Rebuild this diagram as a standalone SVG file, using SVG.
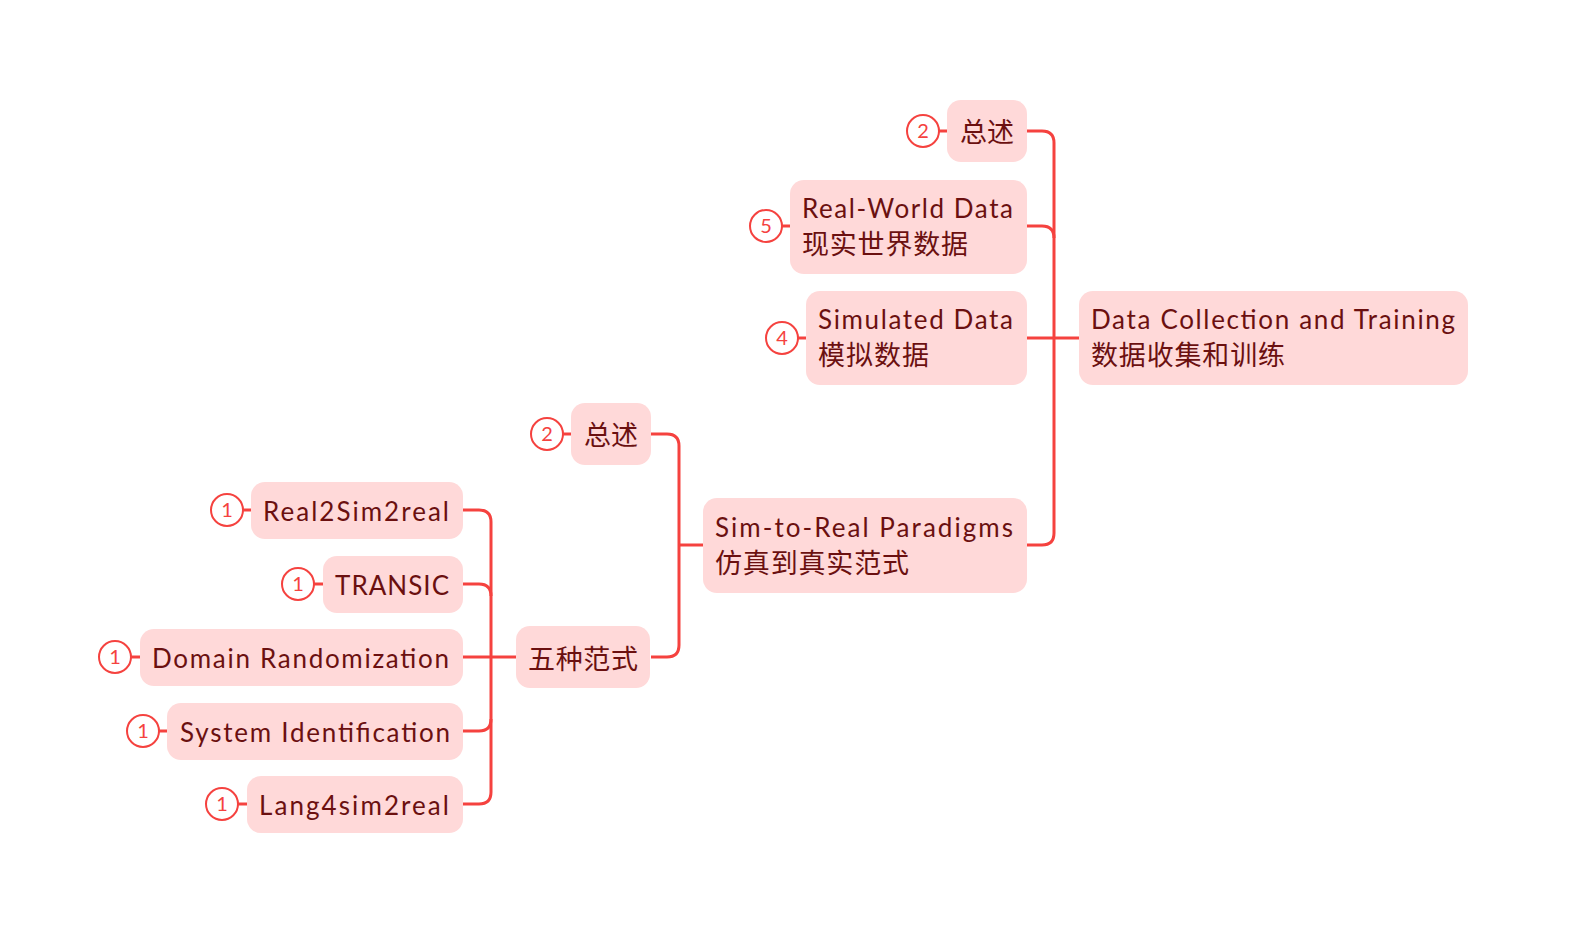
<svg xmlns="http://www.w3.org/2000/svg" width="1576" height="938" viewBox="0 0 1576 938">
<style>
.n{fill:#ffd9d9;}
.t{font-family:Lato,"Noto Sans CJK SC",sans-serif;font-size:26px;fill:#6b1010;}
.z{font-family:"Noto Sans CJK SC",sans-serif;font-size:27px;fill:#6b1010;}
.c{fill:none;stroke:#f5423f;stroke-width:3;}
.b{fill:#fff;stroke:#f5423f;stroke-width:2;}
.bt{font-family:Lato,"Noto Sans CJK SC",sans-serif;font-size:20px;fill:#f5423f;text-anchor:middle;}
</style>
<rect width="1576" height="938" fill="#fff"/>
<g id="connectors">
<path class="c" d="M1027 338 H1079"/>
<path class="c" d="M1027 131 H1042 Q1054 131 1054 143 V533 Q1054 545 1042 545 H1027"/>
<path class="c" d="M1027 226 H1042 Q1054 226 1054 238"/>
<path class="c" d="M679 545 H703"/>
<path class="c" d="M651 434 H667 Q679 434 679 446 V645 Q679 657 667 657 H651"/>
<path class="c" d="M463 657 H516"/>
<path class="c" d="M463 510 H479 Q491 510 491 522 V792 Q491 804 479 804 H463"/>
<path class="c" d="M463 584 H479 Q491 584 491 596"/>
<path class="c" d="M463 731 H479 Q491 731 491 719"/>
<path class="c" d="M939 131 H947"/>
<path class="c" d="M782 226 H790"/>
<path class="c" d="M798 338 H806"/>
<path class="c" d="M563 434 H571"/>
<path class="c" d="M243 510 H251"/>
<path class="c" d="M314 584 H323"/>
<path class="c" d="M131 657 H140"/>
<path class="c" d="M159 731 H167"/>
<path class="c" d="M238 804 H247"/>
</g>
<g id="root">
<rect class="n" x="1079" y="291" width="389" height="94" rx="14"/>
<text class="t" x="1091" y="329" textLength="364" lengthAdjust="spacing">Data Collection and Training</text>
<text class="z" x="1091" y="365" textLength="194" lengthAdjust="spacing">数据收集和训练</text>
</g>
<g id="overview1">
<rect class="n" x="947" y="100" width="80" height="62" rx="14"/>
<text class="z" x="960" y="142" textLength="54" lengthAdjust="spacing">总述</text>
<circle class="b" cx="923" cy="131" r="16"/><text class="bt" x="923" y="138">2</text>
</g>
<g id="realworld">
<rect class="n" x="790" y="180" width="237" height="94" rx="14"/>
<text class="t" x="802" y="218" textLength="211" lengthAdjust="spacing">Real-World Data</text>
<text class="z" x="802" y="254" textLength="166" lengthAdjust="spacing">现实世界数据</text>
<circle class="b" cx="766" cy="226" r="16"/><text class="bt" x="766" y="233">5</text>
</g>
<g id="simulated">
<rect class="n" x="806" y="291" width="221" height="94" rx="14"/>
<text class="t" x="818" y="329" textLength="195" lengthAdjust="spacing">Simulated Data</text>
<text class="z" x="818" y="365" textLength="111" lengthAdjust="spacing">模拟数据</text>
<circle class="b" cx="782" cy="338" r="16"/><text class="bt" x="782" y="345">4</text>
</g>
<g id="sim2real">
<rect class="n" x="703" y="498" width="324" height="95" rx="14"/>
<text class="t" x="715" y="537" textLength="298" lengthAdjust="spacing">Sim-to-Real Paradigms</text>
<text class="z" x="715" y="573" textLength="194" lengthAdjust="spacing">仿真到真实范式</text>
</g>
<g id="overview2">
<rect class="n" x="571" y="403" width="80" height="62" rx="14"/>
<text class="z" x="584" y="445" textLength="54" lengthAdjust="spacing">总述</text>
<circle class="b" cx="547" cy="434" r="16"/><text class="bt" x="547" y="441">2</text>
</g>
<g id="fiveparadigms">
<rect class="n" x="516" y="626" width="134" height="62" rx="14"/>
<text class="z" x="528" y="669" textLength="110" lengthAdjust="spacing">五种范式</text>
</g>
<g id="real2sim2real">
<rect class="n" x="251" y="482" width="212" height="57" rx="14"/>
<text class="t" x="263" y="521" textLength="186" lengthAdjust="spacing">Real2Sim2real</text>
<circle class="b" cx="227" cy="510" r="16"/><text class="bt" x="227" y="517">1</text>
</g>
<g id="transic">
<rect class="n" x="323" y="556" width="140" height="57" rx="14"/>
<text class="t" x="335" y="595" textLength="114" lengthAdjust="spacing">TRANSIC</text>
<circle class="b" cx="298" cy="584" r="16"/><text class="bt" x="298" y="591">1</text>
</g>
<g id="domainrand">
<rect class="n" x="140" y="629" width="323" height="57" rx="14"/>
<text class="t" x="152" y="668" textLength="297" lengthAdjust="spacing">Domain Randomization</text>
<circle class="b" cx="115" cy="657" r="16"/><text class="bt" x="115" y="664">1</text>
</g>
<g id="sysid">
<rect class="n" x="167" y="703" width="296" height="57" rx="14"/>
<text class="t" x="180" y="742" textLength="270" lengthAdjust="spacing">System Identification</text>
<circle class="b" cx="143" cy="731" r="16"/><text class="bt" x="143" y="738">1</text>
</g>
<g id="lang4sim2real">
<rect class="n" x="247" y="776" width="216" height="57" rx="14"/>
<text class="t" x="259" y="815" textLength="190" lengthAdjust="spacing">Lang4sim2real</text>
<circle class="b" cx="222" cy="804" r="16"/><text class="bt" x="222" y="811">1</text>
</g>
</svg>
